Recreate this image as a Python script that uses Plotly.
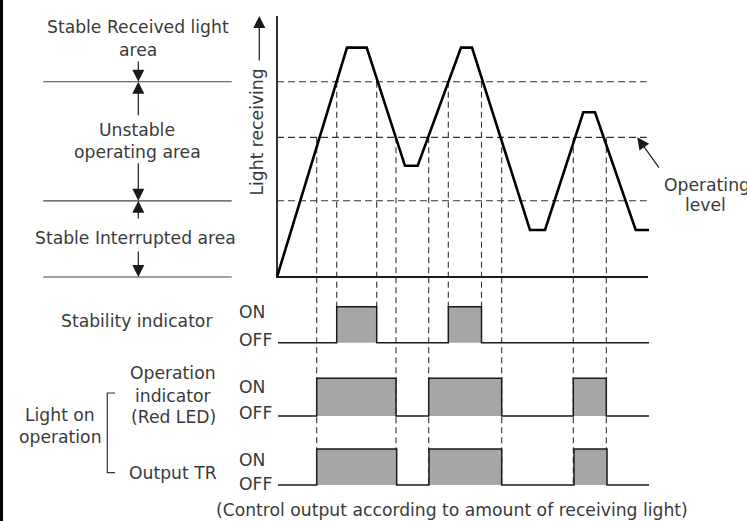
import plotly.graph_objects as go

W, H = 747, 521

# ---------------- data ----------------
# light receiving curve: time (arbitrary units) vs light level (%)
curve_t = [0, 7.0, 8.97, 12.8, 14.07, 18.4, 19.5, 25.3, 26.8, 30.63, 31.8, 35.87, 37.2]
curve_level = [0, 87.9, 87.9, 42.6, 42.6, 87.9, 87.9, 18.0, 18.0, 63.1, 63.1, 18.0, 18.0]

# levels: stable received light, operating level, stable interrupted
level_stable_rx = 74.8
level_operating = 53.5
level_stable_int = 29.2
thresholds = [level_stable_rx, level_operating, level_stable_int]

# switching times of the indicators / output
stab_on = [5.97, 17.13]
stab_off = [9.97, 20.45]
op_on = [3.97, 15.17, 29.63]
op_off = [11.9, 22.47, 32.93]
out_on = [3.97, 15.2, 29.7]
out_off = [11.97, 22.47, 33.0]

t_start, t_end = 0.1, 37.2

# ---------------- layout helpers ----------------
FONT = dict(family="DejaVu Sans", size=17.2, color="#3a3a3a")
LINE = "#1a1a1a"
GRAY = "#a6a6a6"


def px(x):
    return x / W


def py(y):
    return 1 - y / H


X_RANGE = [-27.7, 47.0]          # time axis across the whole width
LIGHT_RANGE = [-4, 104]
LIGHT_DOM = [py(277 + 4 * 2.61), py(16 - 4 * 2.61)]


def sig_domain(off_px, on_px):
    span = off_px - on_px
    return [py(off_px + 0.2 * span), py(on_px - 0.2 * span)]


SIG_RANGE = [-0.2, 1.2]
STAB_DOM = sig_domain(342.7, 306.7)
OP_DOM = sig_domain(416.0, 378.3)
OUT_DOM = sig_domain(485.0, 449.0)


def to_paper(v, dom, rng):
    return dom[0] + (v - rng[0]) / (rng[1] - rng[0]) * (dom[1] - dom[0])


def step(on, off):
    xs, ys = [t_start], [0]
    for a, b in zip(on, off):
        xs += [a, b]
        ys += [1, 0]
    xs.append(t_end)
    ys.append(0)
    return xs, ys


fig = go.Figure()

# axes of light chart
fig.add_trace(go.Scatter(x=[0, 0, 37.1], y=[100, 0, 0], mode="lines",
                         line=dict(color=LINE, width=1.8), hoverinfo="skip"))
# threshold dashed lines
tx, ty = [], []
for th in thresholds:
    tx += [0, 36.97, None]
    ty += [th, th, None]
fig.add_trace(go.Scatter(x=tx, y=ty, mode="lines",
                         line=dict(color="#333333", width=1.1, dash="7px,4px"), hoverinfo="skip"))
# left-area lines
lx, ly = [], []
for lv in [level_stable_rx, level_stable_int, 0]:
    lx += [-23.37, -4.53, None]
    ly += [lv, lv, None]
fig.add_trace(go.Scatter(x=lx, y=ly, mode="lines",
                         line=dict(color="#444444", width=1.2), hoverinfo="skip"))
# light curve
fig.add_trace(go.Scatter(x=curve_t, y=curve_level, mode="lines",
                         line=dict(color="#000000", width=2.6), hoverinfo="skip"))

# signal traces
for on, off, ya in [(stab_on, stab_off, "y2"), (op_on, op_off, "y3"), (out_on, out_off, "y4")]:
    xs, ys = step(on, off)
    fig.add_trace(go.Scatter(x=xs, y=ys, mode="lines", line_shape="hv",
                             fill="tozeroy", fillcolor=GRAY,
                             line=dict(color=LINE, width=1.5),
                             yaxis=ya, hoverinfo="skip"))

shapes = []
# vertical dashed lines
y_op_top = to_paper(level_operating, LIGHT_DOM, LIGHT_RANGE)
y_out_bot = to_paper(0, OUT_DOM, SIG_RANGE)
for t in op_on + op_off:
    shapes.append(dict(type="line", xref="x", yref="paper", x0=t, x1=t,
                       y0=y_op_top, y1=y_out_bot, layer="below",
                       line=dict(color="#333333", width=1.1, dash="6px,4px")))
y_st_top = to_paper(level_stable_rx, LIGHT_DOM, LIGHT_RANGE)
y_st_bot = to_paper(1, STAB_DOM, SIG_RANGE)
for t in stab_on + stab_off:
    shapes.append(dict(type="line", xref="x", yref="paper", x0=t, x1=t,
                       y0=y_st_top, y1=y_st_bot, layer="below",
                       line=dict(color="#333333", width=1.1, dash="6px,4px")))
# left border
shapes.append(dict(type="line", xref="paper", yref="paper", x0=px(1.5), x1=px(1.5), y0=0, y1=1,
                   line=dict(color="#000000", width=3)))
# bracket
shapes.append(dict(type="path", xref="paper", yref="paper",
                   path=f"M {px(115)},{py(393)} L {px(107.3)},{py(393)} L {px(107.3)},{py(472.7)} L {px(115)},{py(472.7)}",
                   line=dict(color="#333333", width=1.2)))

ann = []


def text(s, x, y, anchor="center"):
    ann.append(dict(text=s, xref="paper", yref="paper", x=px(x), y=py(y),
                    xanchor=anchor, yanchor="middle", showarrow=False, font=FONT))


text("Stable Received light", 137.5, 27.3)
text("area", 137.5, 50)
text("Unstable", 137.2, 130)
text("operating area", 137.2, 151.7)
text("Stable Interrupted area", 135.8, 238.3)
ann.append(dict(text="Light receiving", xref="paper", yref="paper", x=px(256.5), y=py(132),
                textangle=-90, showarrow=False, font=FONT, xanchor="center", yanchor="middle"))
text("Operating", 707, 185)
text("level", 705, 205)

text("Stability indicator", 136.7, 320.7)
text("Operation", 173.3, 373)
text("indicator", 173.3, 395.5)
text("(Red LED)", 173.3, 417)
text("Light on", 60, 415)
text("operation", 60, 436.7)
text("Output TR", 173.3, 473)

for on_y, off_y in [(311.7, 340), (386.7, 413.3), (460, 484)]:
    text("ON", 236.5, on_y, "left")
    text("OFF", 236.5, off_y, "left")

text("(Control output according to amount of receiving light)", 452, 510)


def arrow(x, y, ax, ay, size=2.0):
    ann.append(dict(text="", x=x, y=y, xref="x", yref="y", ax=ax, ay=ay,
                    showarrow=True, arrowhead=2, arrowsize=size, arrowwidth=1.2,
                    arrowcolor="#1a1a1a", standoff=0))


xa = -13.87
arrow(xa, level_stable_rx, 0, -21.7)
arrow(xa, level_stable_rx, 0, 35)
arrow(xa, level_stable_int, 0, -39)
arrow(xa, level_stable_int, 0, 19.3)
arrow(xa, 0, 0, -27)
arrow(-1.77, 100, 0, 46)
arrow(36.03, level_operating, 22.7, 31.7)

hidden = dict(visible=False, fixedrange=True)
fig.update_layout(
    width=W, height=H, margin=dict(l=0, r=0, t=0, b=0),
    paper_bgcolor="white", plot_bgcolor="rgba(0,0,0,0)",
    showlegend=False,
    xaxis=dict(range=X_RANGE, domain=[0, 1], **hidden),
    yaxis=dict(range=LIGHT_RANGE, domain=LIGHT_DOM, **hidden),
    yaxis2=dict(range=SIG_RANGE, domain=STAB_DOM, anchor="x", **hidden),
    yaxis3=dict(range=SIG_RANGE, domain=OP_DOM, anchor="x", **hidden),
    yaxis4=dict(range=SIG_RANGE, domain=OUT_DOM, anchor="x", **hidden),
    shapes=shapes, annotations=ann,
)

fig.write_html("out.html", config={"displayModeBar": False},
               post_script="document.body.style.margin='0px';document.body.style.overflow='hidden';")
